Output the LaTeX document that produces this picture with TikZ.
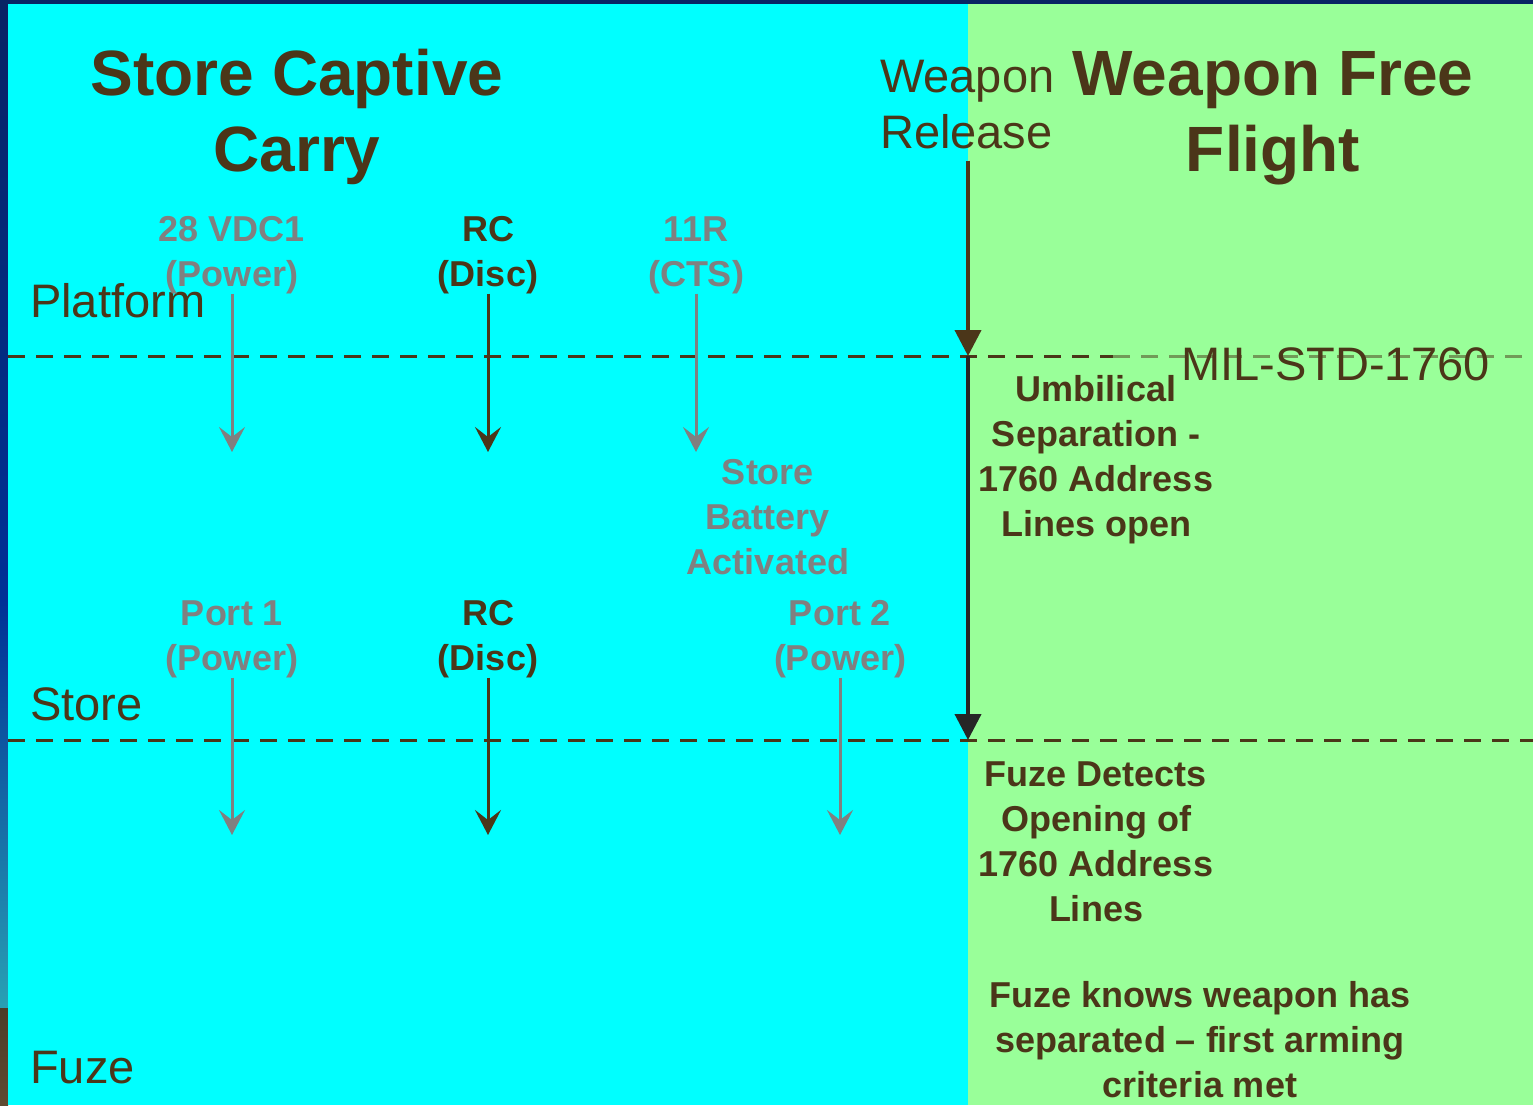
\documentclass[tikz,border=0pt]{standalone}
\usepackage{fontspec}
\setmainfont{Liberation Sans}
\usetikzlibrary{arrows.meta}
\definecolor{tbrown}{RGB}{75,54,25}
\definecolor{tgray}{RGB}{128,128,128}
\definecolor{bgcyan}{RGB}{0,255,255}
\definecolor{bggreen}{RGB}{153,255,153}
\definecolor{navyA}{RGB}{8,36,100}
\definecolor{navyB}{RGB}{0,48,150}
\definecolor{tealS}{RGB}{40,160,180}
\definecolor{brownS}{RGB}{95,75,50}
\tikzset{
  title/.style={font=\fontsize{64}{76}\selectfont\bfseries, text=tbrown, align=center, inner sep=0pt, anchor=base},
  lbl/.style={font=\fontsize{36}{45}\selectfont\bfseries, align=center, inner sep=0pt, anchor=base},
  lvl/.style={font=\fontsize{47}{55}\selectfont, text=tbrown, inner sep=0pt, anchor=base west, align=left},
  garrow/.style={tgray, line width=3pt, -{Stealth[length=25pt,width=26pt,inset=10pt]}},
  barrow/.style={tbrown, line width=3pt, -{Stealth[length=25pt,width=26pt,inset=10pt]}},
  bigarrow/.style={line width=4pt, -{Triangle[length=26pt,width=26pt]}},
  sepline/.style={tbrown, line width=3pt, dash pattern=on 17pt off 11pt},
}
\begin{document}
\begin{tikzpicture}[x=1pt,y=-1pt]
\useasboundingbox (0,0) rectangle (1533,1105);
% background
\fill[navyA] (0,0) rectangle (1533,4);
\shade[top color=navyA, bottom color=navyB] (0,4) rectangle (8,600);
\shade[top color=navyB, bottom color=tealS] (0,600) rectangle (8,1008);
\shade[top color=brownS!80!black, bottom color=brownS] (0,1008) rectangle (8,1105);
\fill[bgcyan] (8,4) rectangle (968,1105);
\fill[bggreen] (968,4) rectangle (1533,1105);

% level separators
\coordinate (d1w) at (8,356);
\coordinate (d1m) at (1113,356);
\coordinate (d1e) at (1533,356);
\coordinate (d2w) at (8,740);
\coordinate (d2e) at (1533,740);
\draw[sepline] (d1w) -- (d1m);
\draw[sepline, draw opacity=0.5] (d1m) -- (d1e);
\draw[sepline] (d2w) -- (d2e);

% titles (anchor base = baseline of last line)
\node[title] (sc) at (297,171) {Store Captive\\Carry};
\node[title] (wf) at (1273,171) {Weapon Free\\Flight};
\node[lvl] (wr) at (880,148) {Weapon\\Release};

% level labels
\node[lvl] (plat) at (30,317) {Platform};
\node[lvl] (stor) at (30,720) {Store};
\node[lvl] (fuze) at (30,1083) {Fuze};
\node[lvl] (mil) at (1181,380) {MIL-STD-1760};

% platform signals
\node[lbl, text=tgray] (p1) at (232,286) {28 VDC1\\(Power)};
\node[lbl, text=tbrown] (p2) at (488,286) {RC\\(Disc)};
\node[lbl, text=tgray] (p3) at (696,286) {11R\\(CTS)};
\coordinate (p1e) at (232,452);
\coordinate (p2e) at (488,452);
\coordinate (p3e) at (696,452);
\draw[garrow] (p1.south) -- (p1e);
\draw[barrow] (p2.south) -- (p2e);
\draw[garrow] (p3.south) -- (p3e);

\node[lbl, text=tgray] (bat) at (768,574) {Store\\Battery\\Activated};

% store signals
\node[lbl, text=tgray] (s1) at (232,670) {Port 1\\(Power)};
\node[lbl, text=tbrown] (s2) at (488,670) {RC\\(Disc)};
\node[lbl, text=tgray] (s3) at (840,670) {Port 2\\(Power)};
\coordinate (s1e) at (232,835);
\coordinate (s2e) at (488,835);
\coordinate (s3e) at (840,835);
\draw[garrow] (s1.south) -- (s1e);
\draw[barrow] (s2.south) -- (s2e);
\draw[garrow] (s3.south) -- (s3e);

% release arrows
\coordinate (r1) at (968,356);
\coordinate (r2) at (968,740);
\draw[bigarrow, tbrown] ([yshift=-12pt]wr.south -| r1) -- (r1);
\draw[bigarrow, black!85] (r1) -- (r2);

% free flight texts
\node[lbl, text=tbrown] (umb) at (1096,536) {Umbilical\\Separation -\\1760 Address\\Lines open};
\node[lbl, text=tbrown] (fdet) at (1096,921) {Fuze Detects\\Opening of\\1760 Address\\Lines};
\node[lbl, text=tbrown] (fkn) at (1200,1097) {Fuze knows weapon has\\separated -- first arming\\criteria met};
\end{tikzpicture}
\end{document}
